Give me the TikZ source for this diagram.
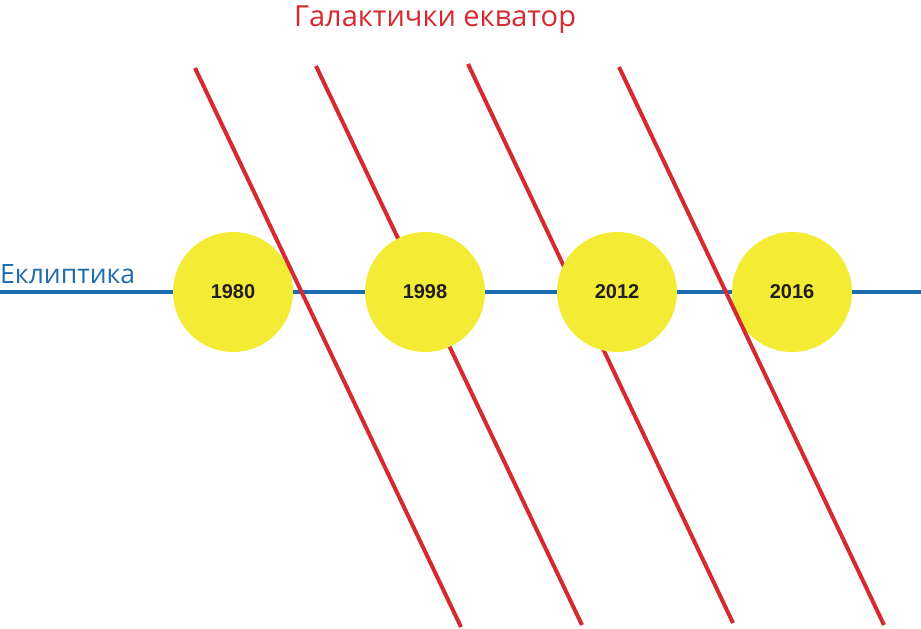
\documentclass[tikz,border=0pt]{standalone}
\usepackage{fontspec}
\setmainfont{Open Sans}
\newfontfamily\numfont{Liberation Sans}
\definecolor{eqred}{HTML}{D62A30}
\definecolor{eclblue}{HTML}{1F6DB0}
\definecolor{sunyel}{HTML}{F4EC34}
\definecolor{numdark}{HTML}{231F20}
\tikzset{
  eqline/.style={draw=eqred, line width=4pt},
  eclline/.style={draw=eclblue, line width=4pt},
  year/.style={circle, fill=sunyel, minimum size=120pt, inner sep=0pt,
    font=\numfont\bfseries\fontsize{20}{21}\selectfont, text=numdark},
}
\begin{document}
\begin{tikzpicture}[x=1pt,y=-1pt]
\useasboundingbox (0,0) rectangle (921,629);
\fill[white] (0,0) rectangle (921,629);
% ecliptic
\coordinate (eL) at (0,292);
\coordinate (eR) at (921,292);
\draw[eclline] (eL) -- (eR);
% equator lines (behind)
\coordinate (a1) at (195,68);  \coordinate (b1) at (461,627);
\coordinate (a2) at (316,66);  \coordinate (b2) at (582,625);
\coordinate (a3) at (468,64);  \coordinate (b3) at (733,623);
\coordinate (a4) at (619,67);  \coordinate (b4) at (884,625);
\draw[eqline] (a2) -- (b2);
\draw[eqline] (a3) -- (b3);
% circles
\node[year] (y1980) at (233,292) {1980};
\node[year] (y1998) at (425,292) {1998};
\node[year] (y2012) at (617,292) {2012};
\node[year] (y2016) at (792,292) {2016};
% equator lines (front)
\draw[eqline] (a1) -- (b1);
\draw[eqline] (a4) -- (b4);
% labels
\node[anchor=base, inner sep=0pt, text=eqred, font=\fontsize{29}{31}\selectfont] (title) at (435,27) {Галактички екватор};
\node[anchor=base west, inner sep=0pt, text=eclblue, font=\fontsize{26.6}{28}\selectfont] (ecl) at (0,283) {Еклиптика};
\end{tikzpicture}
\end{document}
